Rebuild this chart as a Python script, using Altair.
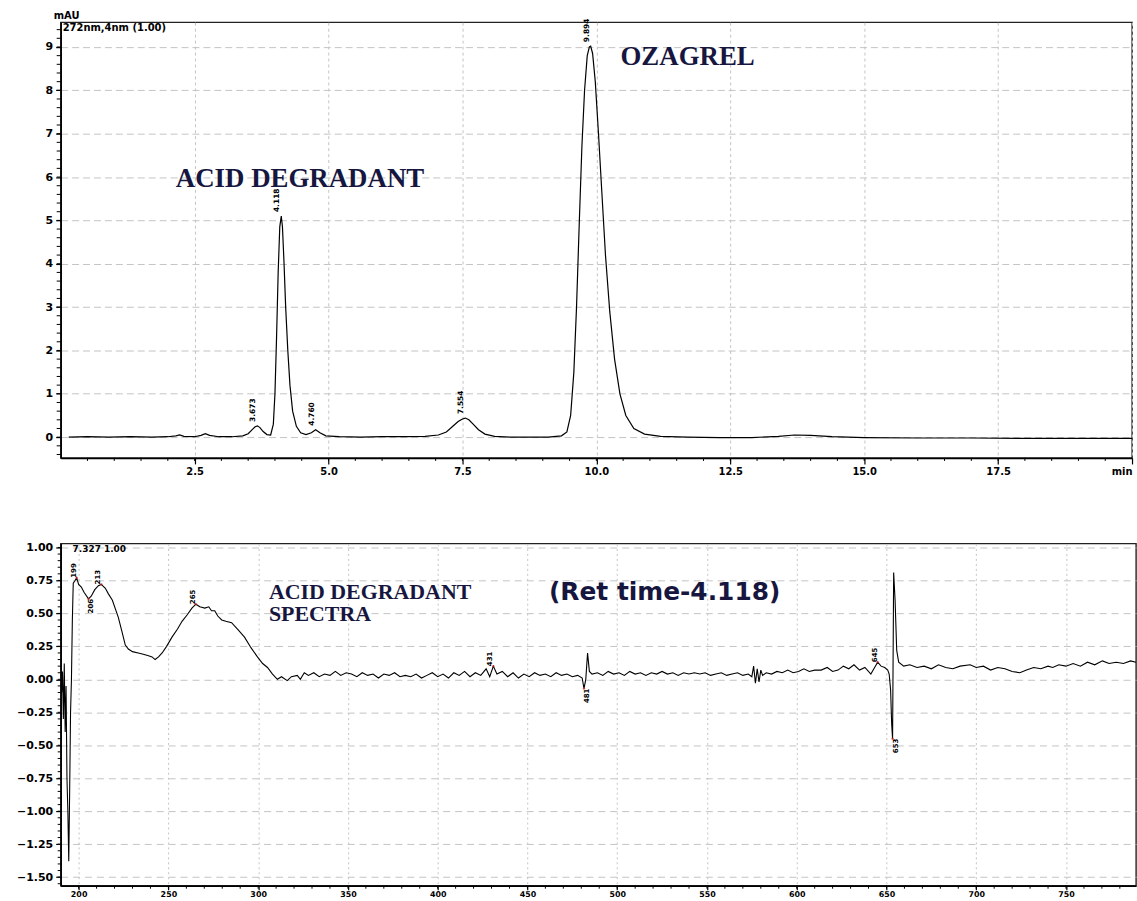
import altair as alt
import pandas as pd
import numpy as np

# ---------------- chromatogram (top) ----------------
t_min = [0.15, 0.5, 0.9, 1.3, 1.7, 2.0, 2.15, 2.22, 2.3, 2.5, 2.62, 2.7, 2.78, 2.95, 3.2, 3.4,
         3.5, 3.58, 3.63, 3.673, 3.72, 3.78, 3.85, 3.92, 3.97, 4.0, 4.03, 4.06, 4.09, 4.118,
         4.14, 4.17, 4.2, 4.24, 4.28, 4.33, 4.4, 4.48, 4.58, 4.68, 4.76, 4.84, 4.95, 5.2, 5.6,
         6.0, 6.4, 6.8, 7.05, 7.2, 7.32, 7.42, 7.5, 7.554, 7.62, 7.7, 7.8, 7.92, 8.1, 8.4, 8.8,
         9.1, 9.35, 9.45, 9.52, 9.58, 9.63, 9.68, 9.73, 9.78, 9.83, 9.87, 9.894, 9.93, 9.98,
         10.04, 10.1, 10.17, 10.25, 10.34, 10.44, 10.55, 10.7, 10.9, 11.2, 11.7, 12.3, 12.9,
         13.4, 13.7, 14.0, 14.4, 15.0, 16.0, 17.0, 18.0, 19.0, 20.0]
mau = [0.0, 0.01, 0.0, 0.01, 0.0, 0.01, 0.03, 0.05, 0.02, 0.01, 0.04, 0.08, 0.04, 0.01, 0.01, 0.03,
       0.08, 0.18, 0.24, 0.26, 0.22, 0.13, 0.06, 0.05, 0.3, 1.0, 2.3, 3.8, 4.85, 5.1,
       4.85, 4.0, 3.0, 2.0, 1.2, 0.6, 0.25, 0.1, 0.06, 0.1, 0.17, 0.1, 0.03, 0.01, 0.0,
       0.01, 0.01, 0.02, 0.05, 0.12, 0.25, 0.36, 0.42, 0.44, 0.4, 0.3, 0.17, 0.07, 0.02, 0.0, 0.0,
       0.0, 0.03, 0.12, 0.5, 1.5, 3.0, 4.9, 6.7, 8.0, 8.8, 9.0, 9.02, 8.85, 8.2,
       7.0, 5.7, 4.2, 2.9, 1.8, 1.0, 0.5, 0.2, 0.07, 0.02, 0.0, -0.01, -0.01,
       0.02, 0.05, 0.04, 0.01, -0.01, -0.02, -0.02, -0.03, -0.03, -0.03]

peak_t = [3.673, 4.118, 4.760, 7.554, 9.894]
peak_h = [0.26, 5.1, 0.17, 0.44, 9.02]
peak_txt = ["3.673", "4.118", "4.760", "7.554", "9.894"]

top_x_ticks = [2.5, 5.0, 7.5, 10.0, 12.5, 15.0, 17.5, 20.0]
top_y_ticks = [0, 1, 2, 3, 4, 5, 6, 7, 8, 9]

# ---------------- spectrum (bottom) ----------------
nm = [190.5, 191.0, 191.5, 192.0, 192.5, 193.0, 193.5, 194.0, 194.5, 195.0, 195.5, 196.0, 196.5,
      197.0, 198.0, 198.9, 200.0, 201.5, 203.0, 205.5, 207.0, 209.0, 211.0, 212.6, 214.9, 216.5,
      218.8, 222.1, 224.0, 226.0, 227.7, 230.0, 233.2, 236.0, 238.5, 240.9, 242.6, 244.5, 246.5,
      249.0, 252.0, 255.0, 257.6, 260.5, 263.1, 265.3, 267.5, 270.3, 272.5, 274.0, 275.8, 277.5,
      279.7, 282.0, 285.2, 288.5, 292.4, 296.0, 299.6, 302.5, 305.2, 308.0, 310.7, 313.0, 316.2,
      318.5, 321.8, 323.5, 325.7, 328, 331, 334, 337, 340, 343, 346, 349, 352, 355, 358, 361,
      364, 367, 370, 373, 376, 379, 382, 385, 388, 391, 394, 397, 400, 403, 406, 409, 412, 415,
      418, 421, 424, 427, 429, 431, 433, 436, 439, 442, 445, 448, 451, 454, 457, 460, 463, 466,
      469, 472, 475, 478, 480.5, 481.5, 482.5, 483.5, 484.5, 486, 489, 492, 495, 498, 501, 504,
      507, 510, 513, 516, 519, 522, 525, 528, 531, 534, 537, 540, 543, 546, 549, 552, 555, 558,
      561, 564, 567, 570, 573, 575, 576, 577, 578, 579, 580, 581, 583, 586, 589, 592, 595, 598,
      601, 604, 607, 610, 613.6, 617, 620, 623, 626, 629, 631.9, 635, 638, 641.3, 643, 645.1,
      647, 649, 650.7, 651.5, 652.3, 652.9, 653.4, 654.0, 654.8, 655.7, 656.8, 659.6, 663, 667,
      671, 675, 679, 683, 687, 691, 696.6, 700, 704, 708, 712, 716, 720, 724.3, 728, 732, 736,
      740, 742.6, 746, 750, 754, 758, 762, 766, 770.3, 774, 778, 782, 786, 789]
au = [-0.10, 0.06, -0.30, 0.12, -0.40, -0.05, -0.75, -1.00, -1.38, -0.85, -0.25, 0.00, 0.45,
      0.73, 0.75, 0.77, 0.72, 0.70, 0.66, 0.61, 0.63, 0.68, 0.71, 0.72, 0.69, 0.65,
      0.60, 0.47, 0.37, 0.26, 0.23, 0.21, 0.20, 0.19, 0.18, 0.17, 0.15, 0.17, 0.20,
      0.25, 0.32, 0.38, 0.44, 0.49, 0.54, 0.57, 0.55, 0.54, 0.55, 0.52, 0.52, 0.48,
      0.45, 0.44, 0.43, 0.38, 0.32, 0.24, 0.17, 0.12, 0.09, 0.04, 0.00, 0.02, -0.01,
      0.02, 0.03, 0.00, 0.05, 0.03, 0.05, 0.02, 0.04, 0.03, 0.06, 0.03, 0.05, 0.04, 0.02, 0.05, 0.03,
      0.04, 0.01, 0.04, 0.03, 0.05, 0.02, 0.03, 0.02, 0.04, 0.01, 0.03, 0.05, 0.02, 0.04, 0.01, 0.05, 0.03, 0.06,
      0.02, 0.05, 0.03, 0.08, 0.02, 0.10, 0.04, 0.06, 0.02, 0.05, 0.01, 0.04, 0.02, 0.05, 0.03, 0.04, 0.02, 0.05,
      0.03, 0.04, 0.02, 0.03, 0.01, -0.07, 0.00, 0.20, 0.06, 0.04, 0.05, 0.03, 0.06, 0.04, 0.05, 0.03,
      0.06, 0.04, 0.05, 0.03, 0.05, 0.04, 0.06, 0.04, 0.05, 0.03, 0.05, 0.04, 0.05, 0.04, 0.05, 0.03, 0.04, 0.05,
      0.03, 0.04, 0.05, 0.03, 0.04, 0.02, 0.10, -0.03, 0.08, -0.02, 0.07, 0.03, 0.05, 0.04, 0.06, 0.05, 0.07, 0.05,
      0.06, 0.08, 0.06, 0.07, 0.07, 0.09, 0.06, 0.07, 0.10, 0.08, 0.11, 0.07, 0.09, 0.04, 0.08, 0.13,
      0.10, 0.09, 0.07, 0.04, -0.08, -0.34, -0.45, 0.81, 0.60, 0.22, 0.13, 0.10, 0.11, 0.09,
      0.10, 0.08, 0.11, 0.09, 0.08, 0.10, 0.11, 0.09, 0.10, 0.07, 0.09, 0.08, 0.06, 0.05, 0.07, 0.09, 0.08,
      0.10, 0.09, 0.11, 0.10, 0.12, 0.10, 0.13, 0.11, 0.14, 0.12, 0.13, 0.12, 0.14, 0.13]

spec_pk_nm = [198.9, 205.5, 212.6, 265.3, 431.0, 481.5, 645.1, 653.4]
spec_pk_au = [0.77, 0.61, 0.72, 0.57, 0.10, -0.07, 0.13, -0.45]
spec_pk_txt = ["199", "206", "213", "265", "431", "481", "645", "653"]
spec_pk_up = [True, False, True, True, True, False, True, False]

bot_x_ticks = [200, 250, 300, 350, 400, 450, 500, 550, 600, 650, 700, 750]
bot_y_ticks = [-1.5, -1.25, -1.0, -0.75, -0.5, -0.25, 0.0, 0.25, 0.5, 0.75, 1.0]

# ---------------- styling ----------------
FONT = "DejaVu Sans"
NAVY = "#16163f"
GRID = "#c4c4c4"

TOP_W, TOP_H = 1077, 438
BOT_W, BOT_H = 1081, 344

txs = alt.Scale(domain=[0, 20], nice=False, zero=False)
tys = alt.Scale(domain=[-0.48, 9.57], nice=False, zero=False)
bxs = alt.Scale(domain=[190, 789], nice=False, zero=False)
bys = alt.Scale(domain=[-1.565, 1.03], nice=False, zero=False)

common = dict(domainColor="black", domainWidth=1.6, tickColor="black", tickWidth=1.2,
              labelFont=FONT, labelFontWeight="bold", labelColor="black", gridColor=GRID,
              gridWidth=1, title=None)

tx_axis = alt.Axis(values=top_x_ticks, grid=True, gridDash=[3, 3], tickSize=6, labelPadding=3,
                   labelFontSize=10, labelFlush=True,
                   labelExpr="datum.value == 20 ? 'min' : format(datum.value, '.1f')", **common)
ty_axis = alt.Axis(values=top_y_ticks, grid=True, gridDash=[7, 4], tickSize=5, labelPadding=3,
                   labelFontSize=11, format="d", **common)
bx_axis = alt.Axis(values=bot_x_ticks, grid=True, gridDash=[2, 3], tickSize=4, labelPadding=1,
                   labelFontSize=8, format="d", **common)
by_axis = alt.Axis(values=bot_y_ticks, grid=True, gridDash=[7, 5], tickSize=5, labelPadding=3,
                   labelFontSize=11, format=".2f", **common)

# ---------------- top panel ----------------
top_df = pd.DataFrame({"t": t_min, "v": mau})
top_line = alt.Chart(top_df).mark_line(color="black", strokeWidth=1.2, clip=True).encode(
    x=alt.X("t:Q", scale=txs, axis=tx_axis), y=alt.Y("v:Q", scale=tys, axis=ty_axis))

tminor_x = pd.DataFrame({"t": np.round(np.arange(0.5, 20.0, 0.5), 2)})
top_mx = alt.Chart(tminor_x).mark_rule(color="black", strokeWidth=1).encode(
    x=alt.X("t:Q", scale=txs, axis=tx_axis), y=alt.value(TOP_H), y2=alt.value(TOP_H + 3))
tminor_y = pd.DataFrame({"v": np.round(np.arange(-0.4, 9.5, 0.2), 2)})
top_my = alt.Chart(tminor_y).mark_rule(color="black", strokeWidth=1).encode(
    y=alt.Y("v:Q", scale=tys, axis=ty_axis), x=alt.value(-4), x2=alt.value(0))

pk_df = pd.DataFrame({"t": peak_t, "v": peak_h, "txt": peak_txt})
top_pk = alt.Chart(pk_df).mark_text(angle=270, align="left", baseline="middle", dx=4, dy=-4,
                                    font=FONT, fontSize=7.5, fontWeight="bold", color="black").encode(
    x=alt.X("t:Q", scale=txs, axis=tx_axis), y=alt.Y("v:Q", scale=tys, axis=ty_axis), text="txt:N")

top_ann_df = pd.DataFrame({"t": [2.15, 10.45], "v": [5.76, 8.58], "txt": ["ACID DEGRADANT", "OZAGREL"]})
top_ann = alt.Chart(top_ann_df).mark_text(align="left", baseline="alphabetic", font="Liberation Serif",
                                          fontSize=27, fontWeight="bold", color=NAVY).encode(
    x=alt.X("t:Q", scale=txs, axis=tx_axis), y=alt.Y("v:Q", scale=tys, axis=ty_axis), text="txt:N")

top_hdr = alt.Chart(pd.DataFrame({"txt": ["272nm,4nm (1.00)"]})).mark_text(
    align="left", baseline="top", font=FONT, fontSize=10, fontWeight="bold", color="black").encode(
    x=alt.value(2), y=alt.value(1), text="txt:N")
top_unit = alt.Chart(pd.DataFrame({"txt": ["mAU"]})).mark_text(
    align="left", baseline="bottom", font=FONT, fontSize=10, fontWeight="bold", color="black").encode(
    x=alt.value(-7), y=alt.value(-1), text="txt:N")

top = alt.layer(top_line, top_mx, top_my, top_pk, top_ann, top_hdr, top_unit).properties(
    width=TOP_W, height=TOP_H)

# ---------------- bottom panel ----------------
bot_df = pd.DataFrame({"nm": nm, "v": au})
bot_line = alt.Chart(bot_df).mark_line(color="black", strokeWidth=1.1, clip=True).encode(
    x=alt.X("nm:Q", scale=bxs, axis=bx_axis), y=alt.Y("v:Q", scale=bys, axis=by_axis))

bminor_x = pd.DataFrame({"nm": np.arange(200, 789, 10)})
bot_mx = alt.Chart(bminor_x).mark_rule(color="black", strokeWidth=1).encode(
    x=alt.X("nm:Q", scale=bxs, axis=bx_axis), y=alt.value(BOT_H), y2=alt.value(BOT_H + 3))
bminor_y = pd.DataFrame({"v": np.round(np.arange(-1.55, 1.03, 0.05), 2)})
bot_my = alt.Chart(bminor_y).mark_rule(color="black", strokeWidth=1).encode(
    y=alt.Y("v:Q", scale=bys, axis=by_axis), x=alt.value(-3), x2=alt.value(0))

spk = pd.DataFrame({"nm": spec_pk_nm, "v": spec_pk_au, "txt": spec_pk_txt, "up": spec_pk_up})
bot_pk_up = alt.Chart(spk[spk.up]).mark_text(angle=270, align="left", baseline="middle", dy=-3,
                                             font=FONT, fontSize=7, fontWeight="bold", color="black").encode(
    x=alt.X("nm:Q", scale=bxs, axis=bx_axis), y=alt.Y("v:Q", scale=bys, axis=by_axis), text="txt:N")
bot_pk_dn = alt.Chart(spk[~spk.up]).mark_text(angle=270, align="right", baseline="middle", dy=3,
                                              font=FONT, fontSize=7, fontWeight="bold", color="black").encode(
    x=alt.X("nm:Q", scale=bxs, axis=bx_axis), y=alt.Y("v:Q", scale=bys, axis=by_axis), text="txt:N")
bot_dots = alt.Chart(spk).mark_point(filled=True, size=6, color="#d02020").encode(
    x=alt.X("nm:Q", scale=bxs, axis=bx_axis), y=alt.Y("v:Q", scale=bys, axis=by_axis))

bot_ann = alt.Chart(pd.DataFrame({"nm": [306.0], "v": [0.61], "txt": ["ACID DEGRADANT\nSPECTRA"]})).mark_text(
    align="left", baseline="alphabetic", font="Liberation Serif", fontSize=22, fontWeight="bold",
    color=NAVY, lineBreak="\n", lineHeight=22).encode(
    x=alt.X("nm:Q", scale=bxs, axis=bx_axis), y=alt.Y("v:Q", scale=bys, axis=by_axis), text="txt:N")
bot_ret = alt.Chart(pd.DataFrame({"nm": [462.0], "v": [0.605], "txt": ["(Ret time-4.118)"]})).mark_text(
    align="left", baseline="alphabetic", font="DejaVu Sans", fontSize=25, fontWeight="bold", color=NAVY).encode(
    x=alt.X("nm:Q", scale=bxs, axis=bx_axis), y=alt.Y("v:Q", scale=bys, axis=by_axis), text="txt:N")

bot_hdr = alt.Chart(pd.DataFrame({"txt": ["7.327 1.00"]})).mark_text(
    align="left", baseline="top", font=FONT, fontSize=9, fontWeight="bold", color="black").encode(
    x=alt.value(12), y=alt.value(2), text="txt:N")

bottom = alt.layer(bot_line, bot_mx, bot_my, bot_dots, bot_pk_up, bot_pk_dn, bot_ann, bot_ret,
                   bot_hdr).properties(width=BOT_W, height=BOT_H)

chart = alt.vconcat(top, bottom, spacing=63).properties(
    padding={"left": 15, "top": 8, "right": 0, "bottom": 0},
    background="white",
).configure_view(stroke="#222222", strokeWidth=1.4)

chart.save("out.html", embed_options={"renderer": "svg", "actions": False})
